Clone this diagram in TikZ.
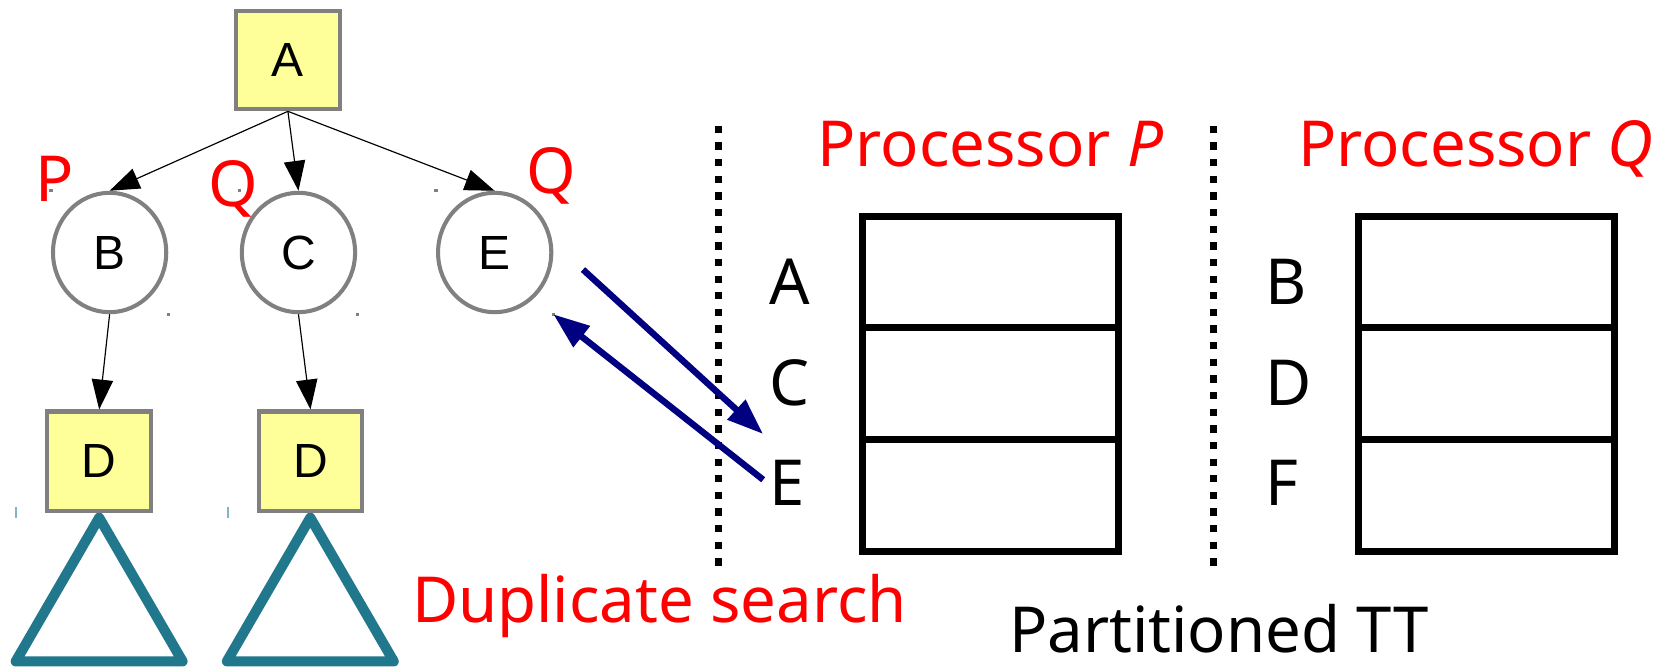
\documentclass[tikz,border=0pt]{standalone}
\usepackage{fontspec}
\usetikzlibrary{arrows.meta,shapes.geometric,calc}
\newfontfamily\labelfont{Noto Sans}
\newfontfamily\treefont{Liberation Sans}
\definecolor{nodefill}{RGB}{255,255,153}
\definecolor{nodeline}{RGB}{128,128,128}
\definecolor{subtree}{RGB}{33,120,140}
\definecolor{probeblue}{RGB}{0,0,128}
\definecolor{procred}{RGB}{255,0,0}

\begin{document}
\begin{tikzpicture}[x=0.5pt,y=-0.5pt,
  sqnode/.style={draw=nodeline, fill=nodefill, line width=1.9pt, rectangle,
    minimum width=48.5pt, minimum height=46.3pt, inner sep=0pt,
    font=\treefont\fontsize{22.5pt}{23pt}\selectfont},
  ovnode/.style={draw=nodeline, line width=1.9pt, ellipse,
    minimum width=53.1pt, minimum height=56pt, inner sep=0pt,
    font=\treefont\fontsize{22.5pt}{23pt}\selectfont},
  treeedge/.style={line width=0.55pt, -{Triangle[length=14pt,width=10pt]}},
  bigtext/.style={inner sep=0pt, anchor=base west,
    font=\labelfont\fontsize{29.75pt}{30pt}\selectfont},
  redtext/.style={bigtext, text=procred},
  ttbox/.style={draw, line width=3.25pt, rectangle, minimum width=120pt,
    minimum height=157.15pt, inner sep=0pt},
  divline/.style={line width=3.25pt},
  sepline/.style={line width=3.4pt, dash pattern=on 3.4pt off 4.4pt},
  probe/.style={draw=probeblue, line width=3pt, -{Triangle[length=17pt,width=12pt]}},
  subtreeline/.style={draw=subtree, line width=4.75pt, line join=round, line cap=round},
  tick/.style={draw=subtree!55, line width=0.8pt},
]
\useasboundingbox (0,0) rectangle (1568,626);

% subtrees below the two D nodes
\draw[subtreeline] (93,485.5) -- (14.75,620.25) -- (171.25,620.25) -- cycle;
\draw[subtreeline] (291,485.5) -- (212.75,620.25) -- (369.25,620.25) -- cycle;
\draw[tick] (15,475) -- (15,486);
\draw[tick] (214,475) -- (214,486);

% search tree
\node[sqnode] (A) at (270,56.2) {A};
\node[ovnode] (B) at (102.8,236.8) {B};
\node[ovnode] (C) at (279.9,236.8) {C};
\node[ovnode] (E) at (463.9,236.8) {E};
\node[sqnode, minimum height=46.5pt] (D1) at (93,432.4) {D};
\node[sqnode, minimum height=46.5pt] (D2) at (291.2,432.4) {D};

\draw[treeedge] (A.south) -- (B.north);
\draw[treeedge] (A.south) -- (C.north);
\draw[treeedge] (A.south) -- (E.north);
\draw[treeedge] (B.south) -- (D1.north);
\draw[treeedge] (C.south) -- (D2.north);

% small corner marks of the ellipses
\foreach \n in {B,C,E}{
  \fill[nodeline] ($(\n.west |- \n.north)+(-1.5,-1.5)$) rectangle ++(3,3);
  \fill[nodeline] ($(\n.east |- \n.south)+(-1.5,-1.5)$) rectangle ++(3,3);
}

% processor owning each node
\node[redtext] (ownB) at (33,188.5) {P};
\node[redtext] (ownC) at (195.5,194) {Q};
\node[redtext] (ownE) at (493.5,181) {Q};

% separators
\draw[sepline] (673.8,118) -- (673.8,537);
\draw[sepline] (1138,118) -- (1138,537);

% partitioned transposition tables
\node[redtext] (procP) at (766,156) {Processor \textit{P}};
\node[redtext] (procQ) at (1217,156) {Processor \textit{Q}};

\node[ttbox] (ttP) at (929,359.85) {};
\node[ttbox] (ttQ) at (1394.25,359.85) {};
\foreach \t in {ttP,ttQ}{
  \draw[divline] (\t.west |- 0,307) -- (\t.east |- 0,307);
  \draw[divline] (\t.west |- 0,412) -- (\t.east |- 0,412);
}

\node[bigtext] (kA) at (721,286) {A};
\node[bigtext] (kC) at (721,380) {C};
\node[bigtext] (kE) at (721,474) {E};
\node[bigtext] (kB) at (1186,286) {B};
\node[bigtext] (kD) at (1186,380) {D};
\node[bigtext] (kF) at (1186,474) {F};

% lookup of E in the remote table and the reply
\coordinate (askS) at (546.7,252.8);
\coordinate (askT) at (715.6,407);
\coordinate (replyS) at (715.7,449.9);
\draw[probe] (askS) -- (askT);
\draw[probe] (replyS) -- (E.east |- E.south);

\node[redtext] (dup) at (386,584) {Duplicate search};
\node[bigtext, text depth=0pt] (ptt) at (946,612) {Partitioned TT};
\end{tikzpicture}
\end{document}
